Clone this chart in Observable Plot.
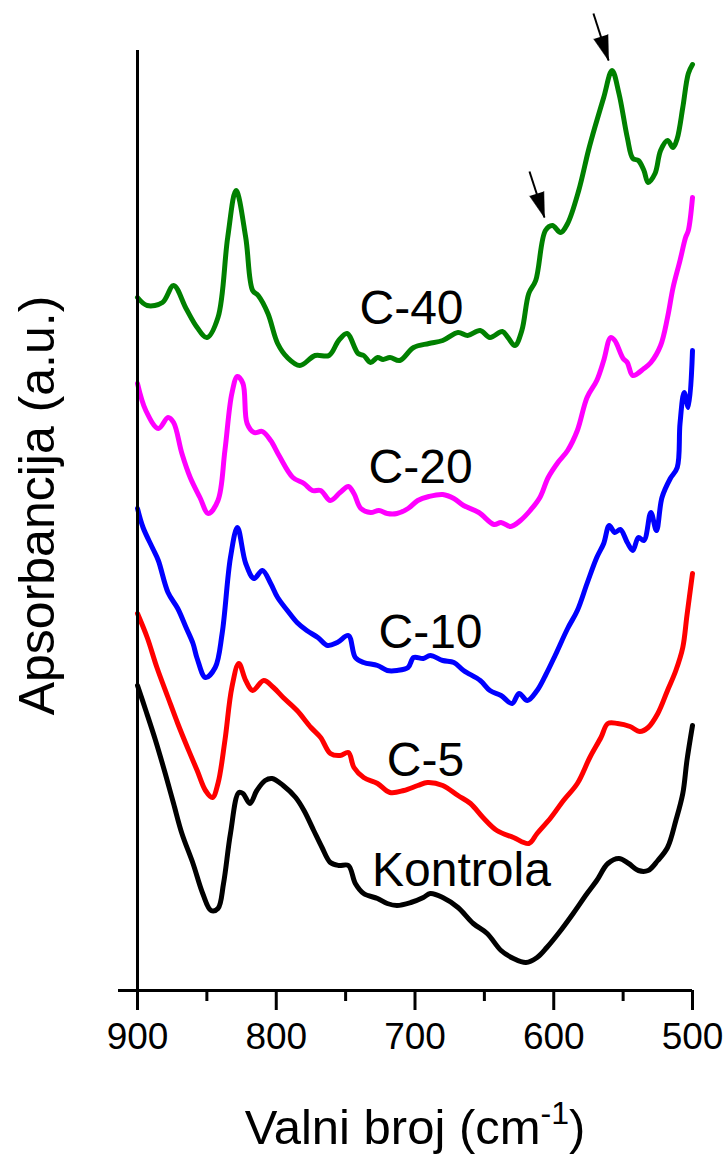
<!DOCTYPE html>
<html>
<head>
<meta charset="utf-8">
<script src="https://cdn.jsdelivr.net/npm/d3@7"></script>
<script src="https://cdn.jsdelivr.net/npm/@observablehq/plot@0.6"></script>
<style>
  html, body { margin: 0; padding: 0; background: white; }
  #chart svg { display: block; }
  #xtitle {
    font-family: "Liberation Sans", Arial, sans-serif;
    font-size: 49px; line-height: 49px; color: black;
    width: 728px; box-sizing: border-box; padding-left: 102px;
    text-align: center; margin-top: 18px; white-space: nowrap;
  }
  #xtitle .sup { font-size: 32px; position: relative; top: -20px; }
</style>
</head>
<body>
<div id="chart"></div>
<div id="xtitle">Valni broj (cm<span class="sup">-1</span>)</div>
<script>
// ---- Data (absorbance in arbitrary units) ----
const majorTicks = [900, 800, 700, 600, 500];
const minorTicks = [850, 750, 650, 550];

const c40Wave = [900, 893, 882, 874, 865, 857, 850, 842, 835, 829, 822, 817, 813, 806, 799, 792, 783, 772, 762, 755, 749, 741, 737, 732, 727, 723, 718, 711, 701, 690, 680, 669, 662, 653, 646, 637, 633, 628, 623, 618, 613, 606, 601, 595, 590, 582, 575, 570, 564, 558, 553, 547, 543, 539, 535, 532, 527, 523, 518, 514, 511, 507, 503, 500];
const c40Abs  = [6.93, 6.85, 6.88, 7.05, 6.82, 6.63, 6.53, 6.73, 7.53, 8.00, 7.53, 7.00, 6.95, 6.77, 6.47, 6.33, 6.25, 6.35, 6.35, 6.50, 6.57, 6.37, 6.35, 6.28, 6.33, 6.31, 6.33, 6.30, 6.43, 6.47, 6.50, 6.58, 6.55, 6.60, 6.53, 6.59, 6.53, 6.45, 6.60, 6.97, 7.10, 7.60, 7.65, 7.58, 7.67, 8.00, 8.40, 8.65, 8.93, 9.20, 8.97, 8.53, 8.32, 8.30, 8.20, 8.08, 8.17, 8.40, 8.50, 8.43, 8.52, 8.83, 9.17, 9.26];

const c20Wave = [900, 894, 885, 878, 874, 868, 862, 855, 849, 842, 837, 832, 828, 824, 821, 816, 810, 804, 798, 788, 780, 774, 768, 761, 754, 748, 744, 739, 732, 726, 720, 713, 705, 698, 690, 680, 672, 665, 654, 643, 638, 631, 624, 617, 610, 604, 597, 590, 583, 576, 569, 564, 559, 556, 550, 547, 543, 535, 530, 523, 518, 514, 509, 505, 503, 500];
const c20Abs  = [6.07, 5.80, 5.62, 5.73, 5.68, 5.37, 5.13, 4.93, 4.77, 4.90, 5.40, 5.97, 6.14, 6.07, 5.67, 5.58, 5.59, 5.50, 5.35, 5.13, 5.07, 5.00, 5.00, 4.90, 4.98, 5.04, 4.97, 4.82, 4.78, 4.80, 4.77, 4.77, 4.82, 4.90, 4.94, 4.96, 4.92, 4.85, 4.78, 4.66, 4.68, 4.64, 4.70, 4.80, 4.93, 5.13, 5.28, 5.40, 5.60, 5.93, 6.10, 6.30, 6.53, 6.50, 6.32, 6.28, 6.15, 6.22, 6.28, 6.45, 6.73, 7.03, 7.30, 7.53, 7.60, 7.93];

const c10Wave = [900, 896, 889, 885, 878, 871, 865, 860, 857, 851, 844, 839, 833, 828, 822, 816, 810, 804, 799, 792, 785, 778, 770, 763, 756, 748, 743, 737, 727, 720, 713, 705, 701, 694, 689, 680, 672, 665, 653, 646, 638, 630, 625, 619, 612, 606, 599, 590, 583, 576, 569, 564, 560, 556, 552, 547, 543, 539, 535, 530, 526, 522, 516, 511, 509, 506, 503, 500];
const c10Abs  = [4.82, 4.63, 4.42, 4.30, 3.98, 3.82, 3.63, 3.47, 3.32, 3.13, 3.23, 3.57, 4.33, 4.63, 4.27, 4.12, 4.20, 4.07, 3.93, 3.80, 3.68, 3.60, 3.53, 3.45, 3.48, 3.55, 3.33, 3.28, 3.25, 3.20, 3.20, 3.23, 3.33, 3.32, 3.35, 3.30, 3.28, 3.20, 3.10, 3.00, 2.95, 2.87, 2.97, 2.90, 3.00, 3.15, 3.35, 3.62, 3.80, 4.07, 4.33, 4.47, 4.65, 4.58, 4.61, 4.48, 4.40, 4.53, 4.50, 4.78, 4.60, 4.93, 5.12, 5.23, 5.67, 5.98, 5.83, 6.40];

const c5Wave = [900, 893, 886, 878, 871, 864, 857, 851, 846, 842, 837, 832, 827, 822, 817, 809, 802, 795, 785, 775, 768, 761, 754, 748, 744, 737, 727, 718, 708, 698, 691, 680, 669, 660, 651, 641, 629, 618, 612, 602, 593, 583, 574, 566, 561, 554, 545, 538, 532, 525, 518, 512, 507, 504, 500];
const c5Abs  = [3.77, 3.53, 3.23, 2.93, 2.67, 2.43, 2.20, 2.00, 1.93, 2.07, 2.50, 3.03, 3.27, 3.10, 3.00, 3.10, 3.03, 2.93, 2.80, 2.63, 2.53, 2.37, 2.35, 2.38, 2.23, 2.13, 2.07, 1.98, 2.00, 2.05, 2.08, 2.05, 1.95, 1.87, 1.73, 1.60, 1.53, 1.47, 1.57, 1.73, 1.90, 2.07, 2.33, 2.53, 2.67, 2.67, 2.64, 2.59, 2.63, 2.77, 3.00, 3.20, 3.43, 3.75, 4.17];

const kontrolaWave = [900, 894, 887, 880, 874, 868, 860, 853, 847, 842, 838, 833, 827, 824, 819, 814, 808, 803, 795, 786, 780, 773, 767, 761, 755, 748, 743, 737, 727, 720, 713, 703, 694, 689, 680, 669, 658, 648, 638, 629, 620, 612, 605, 595, 586, 576, 569, 561, 553, 546, 539, 532, 525, 518, 512, 507, 504, 500];
const kontrolaAbs  = [3.05, 2.80, 2.50, 2.17, 1.87, 1.57, 1.27, 0.97, 0.80, 0.82, 1.07, 1.57, 1.98, 1.97, 1.87, 2.00, 2.10, 2.12, 2.05, 1.93, 1.80, 1.60, 1.43, 1.28, 1.25, 1.25, 1.07, 0.97, 0.92, 0.87, 0.85, 0.88, 0.93, 0.97, 0.93, 0.83, 0.67, 0.57, 0.40, 0.32, 0.28, 0.33, 0.43, 0.60, 0.77, 0.97, 1.10, 1.27, 1.32, 1.27, 1.20, 1.20, 1.30, 1.43, 1.70, 1.97, 2.30, 2.65];

const seriesNames  = ["Kontrola", "C-5", "C-10", "C-20", "C-40"];
const seriesColors = ["#000000", "#ff0000", "#0000ff", "#ff00ff", "#008000"];
const seriesWaves  = [kontrolaWave, c5Wave, c10Wave, c20Wave, c40Wave];
const seriesAbs    = [kontrolaAbs, c5Abs, c10Abs, c20Abs, c40Abs];

// curve labels
const labelText = ["Kontrola", "C-5", "C-10", "C-20", "C-40"];
const labelWave = [666.5, 692.4, 688.8, 696, 702.5];
const labelAbs  = [1.20, 2.30, 3.58, 5.23, 6.82];

// arrows on C-40 (tail -> tip)
const arrowWave1 = [617.5, 571.4];
const arrowAbs1  = [8.19, 9.77];
const arrowWave2 = [606.7, 560.5];
const arrowAbs2  = [7.73, 9.30];

const yTitle = "Apsorbancija (a.u.)";

// ---- Build tables ----
const lineMarks = seriesNames.map((name, s) => {
  const rows = seriesWaves[s].map((w, i) => ({wave: w, abs: seriesAbs[s][i], name}));
  return Plot.line(rows, {x: "wave", y: "abs", stroke: seriesColors[s], strokeWidth: 5,
    curve: "catmull-rom", strokeLinejoin: "round", strokeLinecap: "round"});
});
const labels = labelText.map((t, i) => ({text: t, wave: labelWave[i], abs: labelAbs[i]}));
const arrows = arrowWave1.map((w, i) => ({x1: w, y1: arrowAbs1[i], x2: arrowWave2[i], y2: arrowAbs2[i]}));

const chart = Plot.plot({
  width: 728,
  height: 1085,
  marginLeft: 118,
  marginRight: 36,
  marginTop: 50,
  marginBottom: 95,
  x: {domain: [900, 500], insetLeft: 19},
  y: {domain: [0, 9.4], axis: null},
  style: {fontFamily: "'Liberation Sans', Arial, sans-serif", background: "white", color: "black", overflow: "visible"},
  marks: [
    ...lineMarks,
    Plot.ruleX([900], {strokeWidth: 3}),
    Plot.ruleY([0], {strokeWidth: 3}),
    Plot.axisX({ticks: majorTicks, tickSize: 20, tickPadding: 12, strokeWidth: 3, label: null, fontSize: 37, tickFormat: d => String(d)}),
    Plot.axisX({ticks: minorTicks, tickSize: 11, strokeWidth: 3, label: null, tickFormat: () => ""}),
    Plot.text(labels, {x: "wave", y: "abs", text: "text", fontSize: 48, fill: "black"}),
    Plot.text([yTitle], {text: d => d, frameAnchor: "left", textAnchor: "middle", rotate: -90, dx: -81, dy: -15, fontSize: 50, fill: "black"}),
    Plot.link(arrows, {x1: "x1", y1: "y1", x2: "x2", y2: "y2", stroke: "black", strokeWidth: 2}),
    Plot.vector(arrows, {x: "x2", y: "y2", anchor: "end", shape: "spike", length: 25, r: 7.5, rotate: 162, fill: "black", stroke: "black", strokeWidth: 0.5})
  ]
});
document.getElementById("chart").appendChild(chart);
</script>
</body>
</html>
